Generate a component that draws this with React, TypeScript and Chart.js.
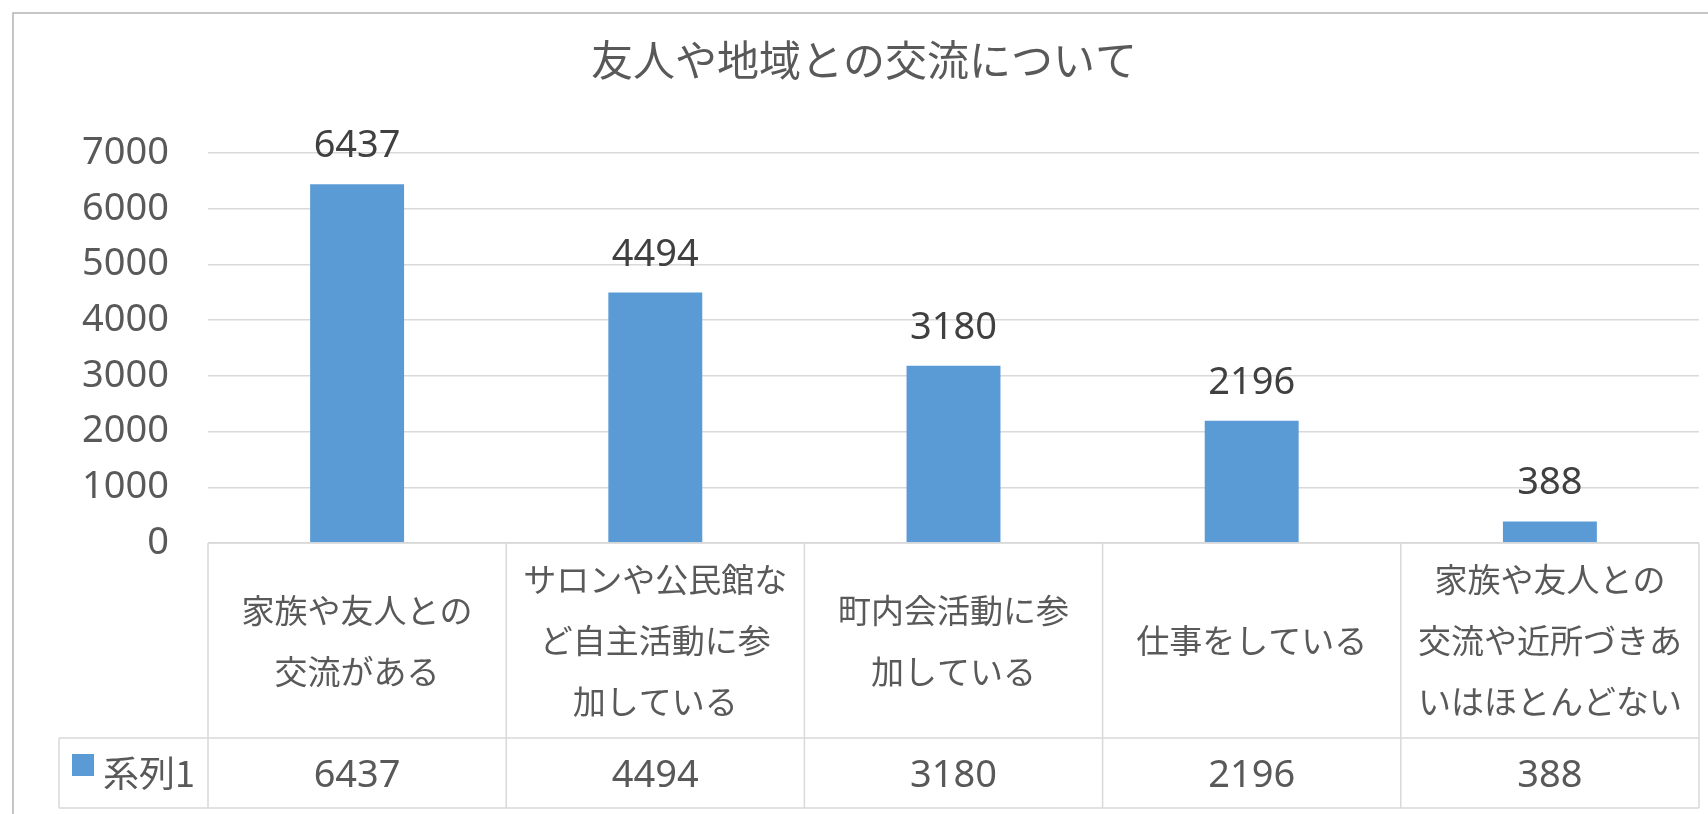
import React, { useEffect, useRef } from "react";
import { Chart, registerables } from "chart.js";

Chart.register(...registerables);

const TITLE = "友人や地域との交流について";
const SERIES_NAME = "系列1";
const CATEGORY_LINES: string[][] = [
  ["家族や友人との", "交流がある"],
  ["サロンや公民館な", "ど自主活動に参", "加している"],
  ["町内会活動に参", "加している"],
  ["仕事をしている"],
  ["家族や友人との", "交流や近所づきあ", "いはほとんどない"],
];
const CATEGORIES = CATEGORY_LINES.map((l) => l.join(""));
const VALUES = [6437, 4494, 3180, 2196, 388];
const Y_MIN = 0;
const Y_MAX = 7000;
const Y_STEP = 1000;

const BAR_COLOR = "#5b9bd5";
const TEXT_COLOR = "#595959";
const LABEL_COLOR = "#404040";
const GRID_COLOR = "#d9d9d9";
const BORDER_COLOR = "#b4b4b4";
const NUM_FONT = "'Noto Sans', 'Noto Sans CJK JP', sans-serif";
const CJK_FONT = "'Noto Sans CJK JP', 'Noto Sans', sans-serif";

const W = 1708;
const H = 814;

const overlayPlugin = {
  id: "overlay",
  beforeDraw(chart: any) {
    const ctx = chart.ctx;
    ctx.save();
    ctx.fillStyle = "#ffffff";
    ctx.fillRect(0, 0, chart.width, chart.height);
    ctx.restore();
  },
  afterDraw(chart: any) {
    const ctx: CanvasRenderingContext2D = chart.ctx;
    const area = chart.chartArea;
    const xs = chart.scales.x;
    const meta = chart.getDatasetMeta(0);
    ctx.save();

    // outer chart border (extends beyond the viewport on right/bottom)
    ctx.strokeStyle = BORDER_COLOR;
    ctx.lineWidth = 1.5;
    ctx.strokeRect(13, 13, W + 20, H + 20);

    // title
    ctx.fillStyle = TEXT_COLOR;
    ctx.font = `42px ${CJK_FONT}`;
    ctx.textAlign = "center";
    ctx.textBaseline = "middle";
    ctx.fillText(TITLE, 864, 60);

    // data labels
    ctx.fillStyle = LABEL_COLOR;
    ctx.font = `38px ${NUM_FONT}`;
    ctx.textBaseline = "alphabetic";
    meta.data.forEach((el: any, i: number) => {
      ctx.fillText(String(VALUES[i]), el.x, el.y - 27);
    });

    // data table
    const n = CATEGORIES.length;
    const catW = (area.right - area.left) / n;
    const top = area.bottom;
    const rowSep = 738;
    const bottom = 808;
    const legendLeft = 59;
    ctx.strokeStyle = GRID_COLOR;
    ctx.lineWidth = 1.5;
    ctx.beginPath();
    ctx.moveTo(area.left, top);
    ctx.lineTo(area.right, top);
    ctx.moveTo(legendLeft, rowSep);
    ctx.lineTo(area.right, rowSep);
    ctx.moveTo(legendLeft, bottom);
    ctx.lineTo(area.right, bottom);
    ctx.moveTo(legendLeft, rowSep);
    ctx.lineTo(legendLeft, bottom);
    for (let i = 0; i <= n; i++) {
      const x = i < n ? xs.getPixelForValue(i) - catW / 2 : xs.getPixelForValue(n - 1) + catW / 2;
      ctx.moveTo(x, top);
      ctx.lineTo(x, bottom);
    }
    ctx.stroke();

    // category labels
    ctx.fillStyle = TEXT_COLOR;
    ctx.font = `33px ${CJK_FONT}`;
    ctx.textAlign = "center";
    ctx.textBaseline = "middle";
    const headCenter = (top + rowSep) / 2;
    const lh = 61;
    CATEGORY_LINES.forEach((lines, i) => {
      const cx = xs.getPixelForValue(i);
      lines.forEach((ln, j) => {
        ctx.fillText(ln, cx, headCenter + (j - (lines.length - 1) / 2) * lh);
      });
    });

    // values row
    ctx.font = `38px ${NUM_FONT}`;
    ctx.textBaseline = "alphabetic";
    const valCenter = (rowSep + bottom) / 2;
    VALUES.forEach((v, i) => {
      ctx.fillText(String(v), xs.getPixelForValue(i), valCenter + 0.36 * 38);
    });

    // legend key
    ctx.fillStyle = BAR_COLOR;
    ctx.fillRect(72, 754, 22, 22);
    ctx.fillStyle = TEXT_COLOR;
    ctx.font = `36px ${CJK_FONT}`;
    ctx.textAlign = "left";
    ctx.textBaseline = "middle";
    ctx.fillText(SERIES_NAME, 103, valCenter);

    ctx.restore();
  },
};

export default function App() {
  const ref = useRef<HTMLCanvasElement | null>(null);
  useEffect(() => {
    if (!ref.current) return;
    const chart = new Chart(ref.current, {
      type: "bar",
      data: {
        labels: CATEGORIES,
        datasets: [
          {
            label: SERIES_NAME,
            data: VALUES,
            backgroundColor: BAR_COLOR,
            barPercentage: 0.315,
            categoryPercentage: 1,
          },
        ],
      },
      options: {
        responsive: false,
        animation: false,
        devicePixelRatio: 1,
        layout: { padding: { left: 0, right: 9, top: 153, bottom: H - 543 } },
        plugins: {
          legend: { display: false },
          title: { display: false },
          tooltip: { enabled: false },
        },
        scales: {
          x: { display: false, grid: { display: false } },
          y: {
            min: Y_MIN,
            max: Y_MAX,
            afterFit: (scale: any) => {
              scale.width = 208;
            },
            ticks: {
              stepSize: Y_STEP,
              color: TEXT_COLOR,
              padding: 39,
              font: { family: NUM_FONT, size: 38 },
              callback: (v: any) => String(v),
            },
            grid: { color: GRID_COLOR, lineWidth: 1.5, drawTicks: false },
            border: { display: false },
          },
        },
      },
      plugins: [overlayPlugin],
    });
    return () => chart.destroy();
  }, []);
  return (
    <canvas
      ref={ref}
      width={W}
      height={H}
      style={{ position: "absolute", left: 0, top: 0, display: "block", width: W, height: H }}
    />
  );
}
